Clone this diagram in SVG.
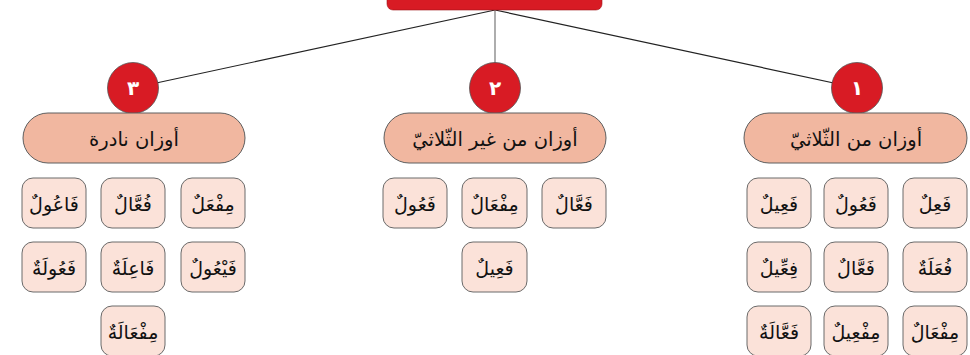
<svg xmlns="http://www.w3.org/2000/svg" width="970" height="355" viewBox="0 0 970 355">
<style>
.t{font-family:"DejaVu Sans","Noto Sans",sans-serif;fill:#111;text-anchor:middle;dominant-baseline:central}
.pill{fill:#F1B7A0;stroke:#5e5e5e;stroke-width:1}
.box{fill:#FBE2D9;stroke:#6a6a6a;stroke-width:1}
.num{fill:#D81B24;stroke:#555;stroke-width:0.8}
.nt{font-family:"DejaVu Sans",sans-serif;font-weight:bold;fill:#fff;font-size:20px;text-anchor:middle;dominant-baseline:central}
.h{font-size:19.5px}
.w{font-size:19px}
</style>
<rect width="970" height="355" fill="#fff"/>
<g id="connectors" stroke-width="1.2" fill="none">
<line x1="495" y1="10" x2="133" y2="88" stroke="#222"/>
<line x1="495" y1="10" x2="857" y2="88" stroke="#222"/>
<line x1="495" y1="10" x2="495" y2="63" stroke="#777"/>
</g>
<g id="root"><rect x="387" y="-20" width="215" height="30" rx="6" fill="#D81B24" stroke="#a01419" stroke-width="0.6"/></g>
<g id="n1"><circle class="num" cx="857" cy="88" r="25.5"/><text class="nt" x="857" y="88">١</text></g>
<g id="n2"><circle class="num" cx="495" cy="88" r="25.5"/><text class="nt" x="495" y="88">٢</text></g>
<g id="n3"><circle class="num" cx="133" cy="88" r="25.5"/><text class="nt" x="133" y="88">٣</text></g>
<g id="h1"><rect class="pill" x="744" y="113" width="223" height="50" rx="25"/><text class="t h" x="856" y="139" direction="rtl">أوزان من الثّلاثيّ</text></g>
<g id="h2"><rect class="pill" x="384" y="113" width="222" height="50" rx="25"/><text class="t h" x="495" y="139" direction="rtl">أوزان من غير الثّلاثيّ</text></g>
<g id="h3"><rect class="pill" x="23" y="113" width="222" height="50" rx="25"/><text class="t h" x="134" y="139" direction="rtl">أوزان نادرة</text></g>
<g id="r1"><rect class="box" x="903" y="178" width="64" height="50" rx="11"/><text class="t w" x="935" y="204">فَعِلٌ</text></g>
<g id="r2"><rect class="box" x="824" y="178" width="64" height="50" rx="11"/><text class="t w" x="856" y="204">فَعُولٌ</text></g>
<g id="r3"><rect class="box" x="747" y="178" width="64" height="50" rx="11"/><text class="t w" x="779" y="204">فَعِيلٌ</text></g>
<g id="r4"><rect class="box" x="903" y="242" width="64" height="50" rx="11"/><text class="t w" x="935" y="268">فُعَلَةٌ</text></g>
<g id="r5"><rect class="box" x="824" y="242" width="64" height="50" rx="11"/><text class="t w" x="856" y="268">فَعَّالٌ</text></g>
<g id="r6"><rect class="box" x="747" y="242" width="64" height="50" rx="11"/><text class="t w" x="779" y="268">فِعِّيلٌ</text></g>
<g id="r7"><rect class="box" x="903" y="306" width="64" height="50" rx="11"/><text class="t w" x="935" y="332">مِفْعَالٌ</text></g>
<g id="r8"><rect class="box" x="824" y="306" width="64" height="50" rx="11"/><text class="t w" x="856" y="332">مِفْعِيلٌ</text></g>
<g id="r9"><rect class="box" x="747" y="306" width="64" height="50" rx="11"/><text class="t w" x="779" y="332">فَعَّالَةٌ</text></g>
<g id="m1"><rect class="box" x="542" y="178" width="64" height="50" rx="11"/><text class="t w" x="574" y="204">فَعَّالٌ</text></g>
<g id="m2"><rect class="box" x="462" y="178" width="65" height="50" rx="11"/><text class="t w" x="494.5" y="204">مِفْعَالٌ</text></g>
<g id="m3"><rect class="box" x="383" y="178" width="64" height="50" rx="11"/><text class="t w" x="415" y="204">فَعُولٌ</text></g>
<g id="m4"><rect class="box" x="462" y="242" width="65" height="50" rx="11"/><text class="t w" x="494.5" y="268">فَعِيلٌ</text></g>
<g id="l1"><rect class="box" x="181" y="178" width="64" height="50" rx="11"/><text class="t w" x="213" y="204">مِفْعَلٌ</text></g>
<g id="l2"><rect class="box" x="101" y="178" width="64" height="50" rx="11"/><text class="t w" x="133" y="204">فُعَّالٌ</text></g>
<g id="l3"><rect class="box" x="22" y="178" width="64" height="50" rx="11"/><text class="t w" x="54" y="204">فَاعُولٌ</text></g>
<g id="l4"><rect class="box" x="181" y="242" width="64" height="50" rx="11"/><text class="t w" x="213" y="268">فَيْعُولٌ</text></g>
<g id="l5"><rect class="box" x="101" y="242" width="64" height="50" rx="11"/><text class="t w" x="133" y="268">فَاعِلَةٌ</text></g>
<g id="l6"><rect class="box" x="22" y="242" width="64" height="50" rx="11"/><text class="t w" x="54" y="268">فَعُولَةٌ</text></g>
<g id="l7"><rect class="box" x="101" y="306" width="64" height="50" rx="11"/><text class="t w" x="133" y="332">مِفْعَالَةٌ</text></g>
</svg>
